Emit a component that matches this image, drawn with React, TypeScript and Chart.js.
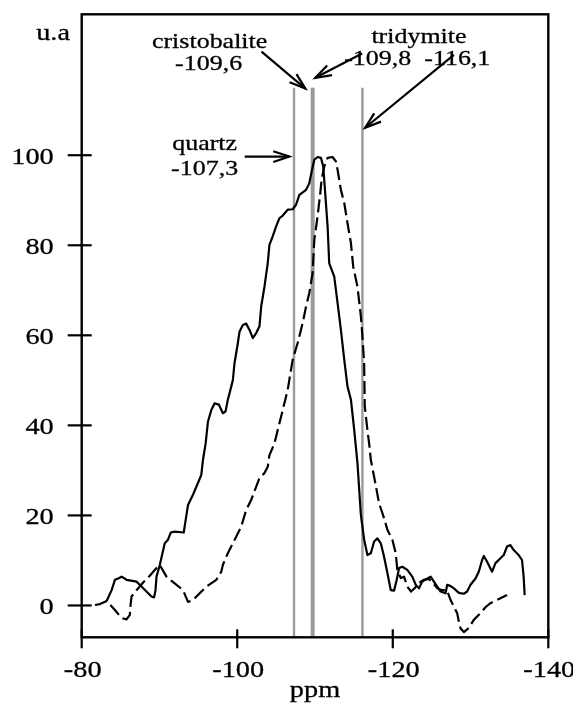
import React, { useEffect, useRef } from "react";
import { Chart, registerables } from "chart.js";

Chart.register(...registerables);

// ---- data (ppm, intensity u.a.) ----
const solidPpm = [
  -83.21, -83.85, -84.27, -84.69, -85.13, -85.77, -87.05, -87.69, -88.33, -88.97,
  -89.31, -89.49, -89.62, -90.04, -90.68, -91.1, -91.45, -91.96, -93.12, -93.37,
  -93.67, -94.31, -94.95, -95.38, -95.59, -95.94, -96.23, -96.67, -97.09, -97.64,
  -98.15, -98.5, -98.79, -99.23, -99.44, -99.65, -100.08, -100.29, -100.72, -101.15,
  -101.58, -102.0, -102.44, -102.86, -103.08, -103.5, -103.92, -104.14, -104.56, -105.0,
  -105.42, -105.85, -106.49, -107.13, -107.56, -107.99, -108.85, -109.27, -109.62, -109.91,
  -110.33, -110.77, -111.06, -111.28, -111.62, -111.83, -112.47, -112.9, -113.33, -113.76,
  -114.18, -114.62, -115.04, -115.46, -115.9, -116.32, -116.74, -117.18, -117.6, -118.03,
  -118.46, -118.88, -119.31, -119.74, -120.17, -120.51, -120.81, -121.23, -121.87, -122.51,
  -122.95, -123.37, -123.79, -124.23, -124.87, -125.29, -125.72, -126.15, -126.79, -127.0,
  -127.44, -127.86, -128.5, -129.14, -129.56, -130.0, -130.64, -131.06, -131.49, -131.71,
  -132.13, -132.77, -133.21, -133.85, -134.27, -134.69, -135.13, -135.55, -136.19, -136.62,
  -136.83, -136.96,
];
const solidVal = [
  1.0, 3.4, 5.7, 6.0, 6.4, 5.7, 5.3, 4.2, 3.1, 2.0,
  1.8, 3.4, 6.4, 9.0, 13.8, 14.6, 16.2, 16.4, 16.2, 19.0,
  22.3, 24.6, 27.2, 29.0, 32.3, 36.0, 40.8, 43.4, 44.9, 44.6,
  42.7, 43.1, 45.7, 48.6, 50.1, 53.8, 58.3, 60.8, 62.3, 62.6,
  61.2, 59.4, 60.5, 62.0, 66.4, 70.8, 76.0, 80.1, 82.0, 84.2,
  86.0, 86.6, 87.9, 88.0, 89.0, 91.2, 92.3, 93.8, 96.8, 99.0,
  99.6, 99.4, 97.5, 92.3, 84.2, 76.0, 73.1, 67.2, 61.2, 54.6,
  48.6, 45.7, 39.0, 31.6, 20.1, 14.6, 11.2, 11.6, 14.2, 14.9,
  13.8, 10.8, 7.2, 3.4, 3.3, 5.7, 8.3, 8.6, 7.9, 6.4,
  4.6, 3.8, 5.3, 5.8, 6.4, 5.3, 4.2, 3.1, 2.7, 4.6,
  4.3, 3.8, 2.8, 2.6, 3.1, 4.6, 6.0, 7.5, 10.1, 11.0,
  9.7, 7.5, 9.4, 10.5, 11.2, 13.1, 13.4, 12.3, 11.2, 10.1,
  6.4, 2.3,
];
const dashPpm = [
  -81.71, -82.35, -83.21, -84.27, -85.13, -85.77, -86.19, -86.28, -86.41, -87.05,
  -87.9, -88.76, -89.4, -90.04, -90.9, -91.96, -93.03, -93.67, -94.31, -95.17,
  -96.03, -97.31, -97.95, -98.15, -98.79, -99.44, -100.51, -101.15, -101.79, -102.44,
  -102.86, -103.5, -103.92, -104.14, -104.79, -105.21, -105.85, -106.49, -107.13, -107.77,
  -108.41, -108.85, -109.27, -109.69, -109.91, -110.33, -110.68, -110.85, -111.19, -111.62,
  -112.26, -112.69, -112.9, -113.33, -113.76, -114.18, -114.62, -114.91, -115.46, -115.9,
  -116.1, -116.32, -116.4, -116.74, -116.96, -117.18, -117.6, -118.24, -118.88, -119.31,
  -119.95, -120.38, -120.59, -121.03, -121.45, -121.87, -122.35, -122.86, -123.37, -124.01,
  -124.65, -125.17, -125.68, -126.32, -126.96, -127.44, -127.86, -128.28, -128.5, -128.72,
  -129.14, -129.78, -130.42, -131.28, -131.92, -132.56, -133.21, -133.85, -134.69,
];
const dashVal = [
  0.1, 0.3, 1.0, -1.0, -2.8, -3.1, -2.1, 0.1, 2.0, 3.4,
  5.1, 6.6, 7.9, 9.0, 6.4, 4.9, 3.4, 0.8, 1.2, 2.7,
  4.2, 5.7, 7.5, 9.0, 11.6, 13.8, 17.5, 21.2, 23.4, 26.4,
  28.3, 29.4, 30.8, 33.4, 36.0, 39.0, 43.4, 47.9, 54.6, 58.3,
  62.7, 66.4, 69.4, 73.8, 81.2, 86.4, 91.6, 94.6, 97.5, 99.4,
  99.6, 98.6, 96.8, 92.3, 89.4, 84.9, 80.5, 75.3, 70.8, 64.2,
  59.7, 53.8, 44.2, 39.0, 36.0, 32.3, 28.6, 22.7, 19.4, 16.8,
  14.6, 11.6, 7.9, 6.1, 6.4, 4.2, 3.1, 3.9, 5.0, 5.7,
  5.9, 5.0, 3.9, 3.4, 3.4, 1.2, -0.3, -1.7, -3.6, -5.1,
  -5.9, -5.0, -3.2, -1.7, -0.4, 0.5, 1.1, 1.6, 2.3,
];

// reference lines (ppm) and their top (u.a)
const refPpm = [-107.3, -109.6, -109.8, -116.1];
const refTop = 115;

// axes
const xTicks = [-80, -100, -120, -140];
const yTicks = [0, 20, 40, 60, 80, 100];
const xMin = -140;
const xMax = -80;
const yMin = -7.07;
const yMax = 131.3;
const xTitle = "ppm";
const yTitle = "u.a";

// annotations (data coordinates)
const noteText = ["cristobalite", "-109,6", "quartz", "-107,3", "tridymite", "-109,8  -116,1"];
const notePpm = [-96.45, -96.32, -95.81, -95.81, -123.37, -123.15];
const noteVal = [123.9, 119.0, 101.1, 95.7, 124.9, 120.0];
const arrowFromPpm = [-100.96, -103.12, -116.06, -127.86];
const arrowFromVal = [99.7, 123.0, 122.6, 122.3];
const arrowToPpm = [-106.71, -108.76, -110.04, -116.45];
const arrowToVal = [99.7, 114.8, 117.2, 106.1];

const FONT = "'Liberation Serif', 'Times New Roman', serif";
const SX = 1.18;

function stretchedText(ctx: CanvasRenderingContext2D, text: string, x: number, y: number, align: CanvasTextAlign) {
  ctx.save();
  ctx.translate(x, y);
  ctx.scale(SX, 1);
  ctx.textAlign = align;
  ctx.textBaseline = "alphabetic";
  ctx.lineWidth = 0.3;
  ctx.fillText(text, 0, 0);
  ctx.strokeText(text, 0, 0);
  ctx.restore();
}

const overlay = {
  id: "overlay",
  afterDraw(chart: any) {
    const { ctx, chartArea: a, scales } = chart;
    const xs = scales.x;
    const ys = scales.y;
    ctx.save();
    ctx.strokeStyle = "#000";
    ctx.fillStyle = "#000";
    ctx.lineCap = "butt";

    // frame
    ctx.lineWidth = 2.4;
    ctx.strokeRect(a.left, a.top, a.right - a.left, a.bottom - a.top);

    // y ticks + labels
    ctx.font = `24px ${FONT}`;
    yTicks.forEach((v) => {
      const py = ys.getPixelForValue(v);
      ctx.lineWidth = 2.2;
      ctx.beginPath();
      ctx.moveTo(a.left - 14, py);
      ctx.lineTo(a.left + 10, py);
      ctx.stroke();
      stretchedText(ctx, String(v), a.left - 28, py + 8.3, "right");
    });
    // x ticks + labels
    xTicks.forEach((v) => {
      const px = xs.getPixelForValue(v);
      ctx.lineWidth = 2.2;
      ctx.beginPath();
      ctx.moveTo(px, a.bottom - 8);
      ctx.lineTo(px, a.bottom + 11);
      ctx.stroke();
      stretchedText(ctx, String(v), px + 1, a.bottom + 40, "center");
    });
    // axis titles
    stretchedText(ctx, xTitle, (a.left + a.right) / 2, a.bottom + 60, "center");
    stretchedText(ctx, yTitle, a.left - 11.7, ys.getPixelForValue(125.7), "right");

    // annotations
    ctx.font = `22px ${FONT}`;
    noteText.forEach((t, i) => {
      stretchedText(ctx, t, xs.getPixelForValue(notePpm[i]), ys.getPixelForValue(noteVal[i]), "center");
    });

    // arrows
    ctx.lineJoin = "miter";
    arrowFromPpm.forEach((_, i) => {
      const x0 = xs.getPixelForValue(arrowFromPpm[i]);
      const y0 = ys.getPixelForValue(arrowFromVal[i]);
      const x1 = xs.getPixelForValue(arrowToPpm[i]);
      const y1 = ys.getPixelForValue(arrowToVal[i]);
      const ang = Math.atan2(y1 - y0, x1 - x0);
      const L = 17;
      const spread = 0.32;
      ctx.lineWidth = 2.2;
      ctx.beginPath();
      ctx.moveTo(x0, y0);
      ctx.lineTo(x1, y1);
      ctx.stroke();
      ctx.beginPath();
      ctx.moveTo(x1 - L * Math.cos(ang - spread), y1 - L * Math.sin(ang - spread));
      ctx.lineTo(x1, y1);
      ctx.lineTo(x1 - L * Math.cos(ang + spread), y1 - L * Math.sin(ang + spread));
      ctx.stroke();
    });
    ctx.restore();
  },
};

export default function App() {
  const ref = useRef<HTMLCanvasElement | null>(null);
  useEffect(() => {
    if (!ref.current) return;
    const refSets = refPpm.map((p) => ({
      data: [
        { x: p, y: yMin },
        { x: p, y: refTop },
      ],
      borderColor: "#9a9a9a",
      borderWidth: 2.4,
      pointRadius: 0,
      tension: 0,
    }));
    const chart = new Chart(ref.current, {
      type: "line",
      data: {
        datasets: [
          {
            data: solidPpm.map((p, i) => ({ x: p, y: solidVal[i] })),
            borderColor: "#000",
            borderWidth: 2.2,
            pointRadius: 0,
            tension: 0,
            borderJoinStyle: "round",
          },
          {
            data: dashPpm.map((p, i) => ({ x: p, y: dashVal[i] })),
            borderColor: "#000",
            borderWidth: 2.2,
            borderDash: [13, 5],
            pointRadius: 0,
            tension: 0,
            borderJoinStyle: "round",
          },
          ...refSets,
        ] as any,
      },
      options: {
        responsive: false,
        animation: false,
        devicePixelRatio: 1,
        layout: { padding: { left: 0, right: 32.7, top: 6.3, bottom: 0 } },
        plugins: { legend: { display: false }, tooltip: { enabled: false } },
        scales: {
          x: {
            type: "linear",
            reverse: true,
            min: xMin,
            max: xMax,
            ticks: { display: false },
            grid: { display: false },
            border: { display: false },
            afterBuildTicks: (s: any) => {
              s.ticks = xTicks.map((v) => ({ value: v }));
            },
            afterFit: (s: any) => {
              s.height = 65.7;
            },
          },
          y: {
            type: "linear",
            min: yMin,
            max: yMax,
            ticks: { display: false },
            grid: { display: false },
            border: { display: false },
            afterBuildTicks: (s: any) => {
              s.ticks = yTicks.map((v) => ({ value: v }));
            },
            afterFit: (s: any) => {
              s.width = 73.7;
            },
          },
        },
      } as any,
      plugins: [overlay],
    });
    return () => chart.destroy();
  }, []);
  return (
    <canvas
      ref={ref}
      width={573}
      height={695}
      style={{ display: "block", width: 573, height: 695 }}
    />
  );
}
